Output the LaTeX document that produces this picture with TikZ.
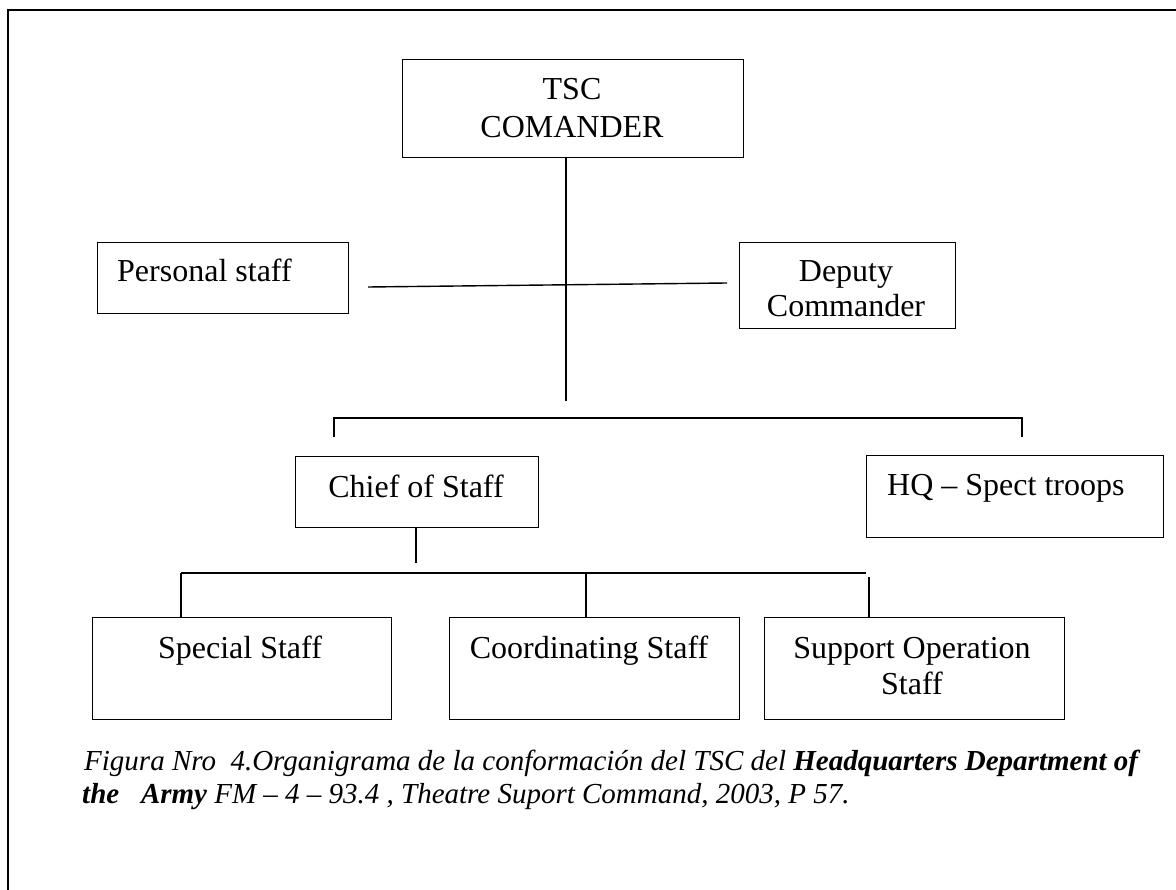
\documentclass[tikz,border=0pt]{standalone}
\usepackage{fontspec}
\setmainfont{Liberation Serif}
\usetikzlibrary{calc}
\begin{document}
\begin{tikzpicture}[x=1pt,y=-1pt,
  box/.style={draw=black,line width=1.4pt,rectangle,inner sep=0pt,anchor=north west},
  lbl/.style={inner sep=0pt,font=\fontsize{32}{36}\selectfont,anchor=base},
  figcap/.style={inner sep=0pt,font=\fontsize{29}{34}\selectfont\itshape,anchor=base west},
  wire/.style={draw=black,line width=1.4pt}]
\useasboundingbox (0,0) rectangle (1176,890);
% page frame
\draw[line width=2.6pt] (1190,10) -- (8,10) -- (8,900);

% boxes
\node[box,minimum width=341pt,minimum height=98pt] (tsc) at (402,59) {};
\node[box,minimum width=251pt,minimum height=71pt] (ps) at (97,242) {};
\node[box,minimum width=216pt,minimum height=86pt] (dc) at (739,242) {};
\node[box,minimum width=243pt,minimum height=71pt] (cos) at (295,456) {};
\node[box,minimum width=297pt,minimum height=82pt] (hq) at (866,455) {};
\node[box,minimum width=299pt,minimum height=102pt] (sp) at (92,617) {};
\node[box,minimum width=290pt,minimum height=102pt] (co) at (449,617) {};
\node[box,minimum width=300pt,minimum height=102pt] (so) at (764,617) {};

% labels
\node[lbl] (tscA) at (572,100) {TSC};
\node[lbl] (tscB) at (572,138) {COMANDER};
\node[lbl,anchor=base west] (psT) at (117,282) {Personal staff};
\node[lbl] (dcA) at (846,282) {Deputy};
\node[lbl] (dcB) at (846,317) {Commander};
\node[lbl] (cosT) at (416,497) {Chief of Staff};
\node[lbl,anchor=base west] (hqT) at (887,496) {HQ -- Spect troops};
\node[lbl] (spT) at (240,658) {Special Staff};
\node[lbl] (coT) at (589,658) {Coordinating Staff};
\node[lbl] (soA) at (912,658) {Support Operation};
\node[lbl] (soB) at (912,694) {Staff};

% connector points
\coordinate (trunk) at (566,401);
\coordinate (psEnd) at (368,287);
\coordinate (dcEnd) at (727,283);
\coordinate (bL) at (334,437);
\coordinate (bR) at (1022,437);
\coordinate (cosEnd) at (416,563);
\coordinate (d1) at (181,573);
\coordinate (d2) at (586,573);
\coordinate (d3) at (869,577);
\coordinate (d3top) at (866,573);

% connectors
\draw[wire] (tsc.south -| trunk) -- (trunk);
\draw[wire] (psEnd) -- (dcEnd);
\draw[wire] (bL) -- ++(0,-19) -| (bR);
\draw[wire] (cos.south -| cosEnd) -- (cosEnd);
\draw[wire] (d1) -- (d3top);
\draw[wire] (d1) -- (d1 |- sp.north);
\draw[wire] (d2) -- (d2 |- co.north);
\draw[wire] (d3) -- (d3 |- so.north);

% caption
\node[figcap] (capA) at (84,770) {Figura Nro\ \ 4.Organigrama de la conformación del TSC del \textbf{Headquarters Department of}};
\node[figcap] (capB) at (82,803) {\textbf{the\ \ \ Army} FM -- 4 -- 93.4 , Theatre Suport Command, 2003, P 57.};
\end{tikzpicture}
\end{document}
